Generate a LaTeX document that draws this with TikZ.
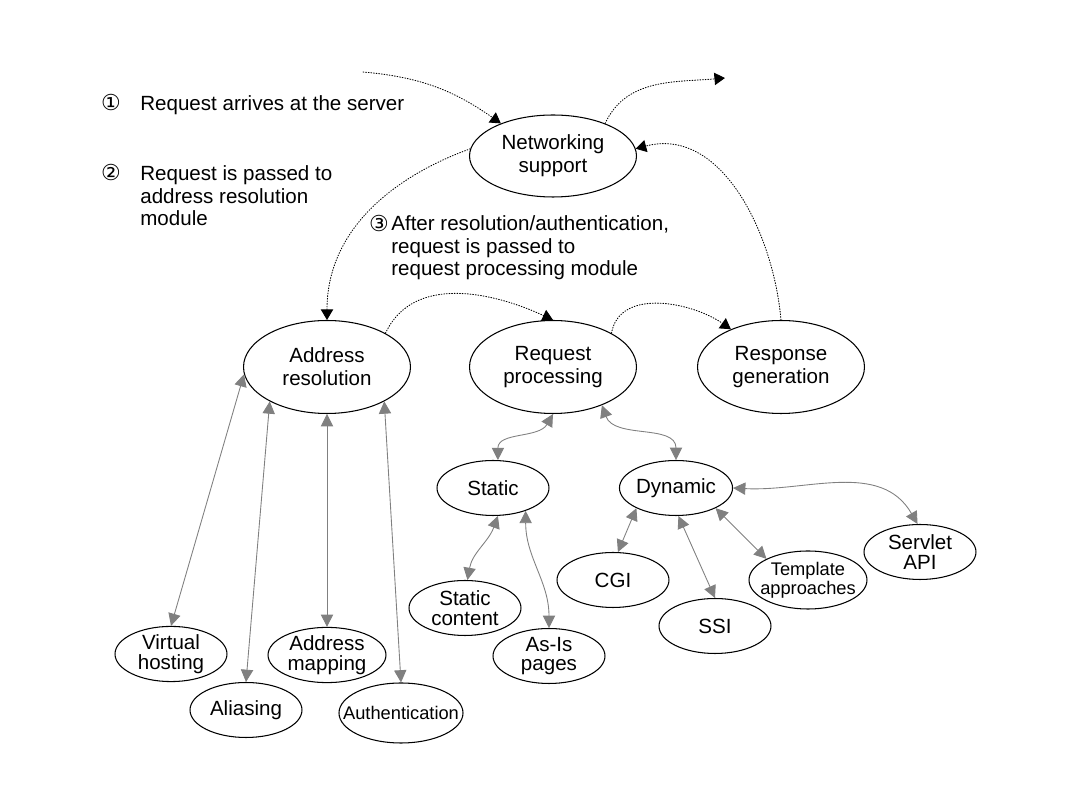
\documentclass[tikz,border=0pt]{standalone}
\usepackage{fontspec}
\setmainfont{Liberation Sans}
\newfontfamily\circfont{DejaVu Sans}
\usetikzlibrary{arrows.meta,shapes.geometric}

\begin{document}
\begin{tikzpicture}[
  x=0.02cm,y=0.02cm,
  font=\fontsize{11.7}{13}\selectfont,
  line cap=round,line join=round,
  module/.style={ellipse,draw,line width=0.6pt,align=center,inner sep=0pt,
    minimum width=3.34cm,minimum height=1.86cm},
  part/.style={ellipse,draw,line width=0.6pt,align=center,inner sep=0pt,
    minimum width=2.24cm,minimum height=1.1cm,
    font=\fontsize{11.7}{11.3}\selectfont},
  squeezed/.style={font=\fontsize{10.4}{9.6}\selectfont},
  numtag/.style={font=\circfont\fontsize{12.5}{12.5}\selectfont,inner sep=0pt},
  note/.style={align=left,anchor=north west,inner sep=0pt},
  flow/.style={-{Triangle[length=6pt,width=7pt]},densely dotted,line width=0.5pt},
  link/.style={{Triangle[length=7pt,width=7pt]}-{Triangle[length=7pt,width=7pt]},
    black!50,line width=0.5pt}
]
  \useasboundingbox (0,0) rectangle (1080,-810);

  % Server modules.
  \node[module,minimum height=1.64cm] (net) at (553,-156) {Networking\\support};
  \node[module] (addr) at (327,-367) {Address\\resolution};
  \node[module] (reqp) at (553,-367) {Request\\processing};
  \node[module] (resp) at (781,-367) {Response\\generation};

  % Sub-tasks.
  \node[part] (static) at (493,-488) {Static};
  \node[part] (dynamic) at (676,-488) {Dynamic};
  \node[part] (scontent) at (465,-608) {Static\\content};
  \node[part] (asis) at (549,-656) {As-Is\\pages};
  \node[part] (cgi) at (613,-580) {CGI};
  \node[part] (ssi) at (715,-626) {SSI};
  \node[part,squeezed,minimum width=2.36cm,minimum height=1.16cm,
    inner xsep=-3.5pt] (tmpl) at (808,-580) {Template\\approaches};
  \node[part] (servlet) at (920,-552) {Servlet\\API};
  \node[part] (vhost) at (171,-654) {Virtual\\hosting};
  \node[part] (alias) at (246,-710) {Aliasing};
  \node[part,minimum width=2.36cm] (amap) at (327,-655) {Address\\mapping};
  \node[part,squeezed,minimum width=2.48cm,minimum height=1.2cm,
    inner xsep=-8pt] (auth) at (401,-713) {Authentication};

  % Numbered steps.
  \node[numtag] (tag1) at (111,-103) {①};
  \node[note] (note1) at (140,-95) {Request arrives at the server};
  \node[numtag] (tag2) at (111,-173) {②};
  \node[note] (note2) at (140,-165)
    {Request is passed to\\address resolution\\module};
  \node[numtag] (tag3) at (379,-224) {③};
  \node[note] (note3) at (391,-215)
    {After resolution/authentication,\\request is passed to\\request processing module};

  % Request flow.
  \coordinate (inflow) at (363,-72);
  \coordinate (outflow) at (725,-78);
  \draw[flow] (inflow) to[out=-5,in=145] (net.148);
  \draw[flow] (net.32) to[out=65,in=185] (outflow);
  \draw[flow] (net.175) to[out=200,in=90] (addr.north);
  \draw[flow] (addr.30) to[out=65,in=155] (reqp.north);
  \draw[flow] (reqp.30) to[out=80,in=145] (resp.143);
  \draw[flow] (resp.north) to[out=95,in=15] (net.5);

  % Module links.
  \draw[link] (addr.185) -- (vhost.north);
  \draw[link] (addr.211) -- (alias.north);
  \draw[link] (addr.south) -- (amap.north);
  \draw[link] (addr.329) -- (auth.north);
  \draw[link] (reqp.south) to[out=240,in=90] (static.80);
  \draw[link] (reqp.322) to[out=-70,in=90] (dynamic.north);
  \draw[link] (static.280) to[out=-110,in=80] (scontent.85);
  \draw[link] (static.325) to[out=-90,in=90] (asis.north);
  \draw[link] (dynamic.207) -- (cgi.80);
  \draw[link] (dynamic.275) -- (ssi.north);
  \draw[link] (dynamic.333) -- (tmpl.153);
  \draw[link] (dynamic.east) to[out=-3,in=120] (servlet.95);
\end{tikzpicture}
\end{document}
